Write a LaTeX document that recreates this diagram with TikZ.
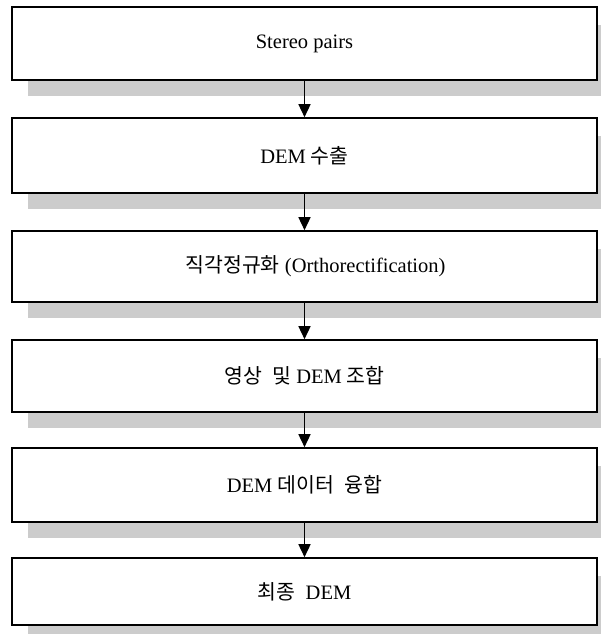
\documentclass[tikz,border=0pt]{standalone}
\usepackage{fontspec}
\setmainfont{Liberation Serif}
\newfontfamily\kr{Noto Sans CJK KR}
\usetikzlibrary{arrows.meta}
\begin{document}
\begin{tikzpicture}[x=1pt,y=-1pt,
  stepbox/.style={draw=black,line width=1.6pt,fill=white,minimum width=585pt,inner sep=0pt,font=\fontsize{20.5}{24}\selectfont},
  shade/.style={fill=black!20,draw=none},
  flow/.style={line width=1.5pt,-{Triangle[length=13pt,width=12pt]}}]
\useasboundingbox (0,0) rectangle (602,634);
% shadows
\foreach \t/\b in {7/80,118/193,231/302,340/412,448/522,558/625}{
  \fill[shade] (28,\t+18) rectangle (601,\b+16);
}
\node[stepbox,minimum height=73pt] (s1) at (304.5,43.5) {Stereo pairs};
\node[stepbox,minimum height=75pt] (s2) at (304.5,155.5) {DEM {\kr 수출}};
\node[stepbox,minimum height=71pt] (s3) at (304.5,266.5) {\hspace*{22pt}{\kr 직각정규화} (Orthorectification)};
\node[stepbox,minimum height=72pt] (s4) at (304.5,376) {{\kr 영상\enspace 및} DEM {\kr 조합}};
\node[stepbox,minimum height=74pt] (s5) at (304.5,485) {DEM {\kr 데이터\enspace 융합}};
\node[stepbox,minimum height=67pt] (s6) at (304.5,591.5) {{\kr 최종}\enspace DEM};
\draw[flow] (s1.south) -- (s2.north);
\draw[flow] (s2.south) -- (s3.north);
\draw[flow] (s3.south) -- (s4.north);
\draw[flow] (s4.south) -- (s5.north);
\draw[flow] (s5.south) -- (s6.north);
\end{tikzpicture}
\end{document}
